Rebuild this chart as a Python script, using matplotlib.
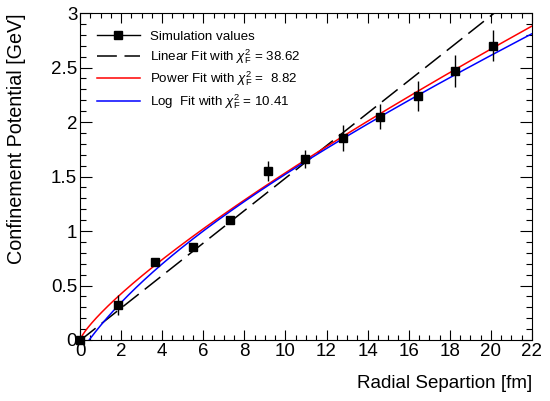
import numpy as np
import matplotlib
matplotlib.use("Agg")
import matplotlib.pyplot as plt
from matplotlib.lines import Line2D
from matplotlib.ticker import MultipleLocator

plt.rcParams['font.family'] = ['Liberation Sans', 'DejaVu Sans']
plt.rcParams['mathtext.fontset'] = 'custom'
plt.rcParams['mathtext.rm'] = 'Liberation Sans'
plt.rcParams['mathtext.it'] = 'Liberation Sans:italic'
plt.rcParams['mathtext.bf'] = 'Liberation Sans:bold'

# ---- data ----
r_fm = [0.0, 1.85, 3.65, 5.50, 7.30, 9.15, 10.95, 12.78, 14.60, 16.45, 18.25, 20.08]
v_gev = [0.0, 0.32, 0.72, 0.855, 1.10, 1.553, 1.66, 1.85, 2.05, 2.24, 2.47, 2.70]
v_err = [0.0, 0.09, 0.0, 0.0, 0.04, 0.09, 0.08, 0.12, 0.115, 0.14, 0.145, 0.14]

# fit parameters (estimated from the drawn curves)
lin_par = [0.149, -0.005]          # y = a*x + b
pow_par = [0.2437, 0.799]          # y = a*x^b
log_par = [0.6133, 3.0, 0.07397, -0.1177]  # y = A*ln(1+x/s) + B*x + C

labels = ["Simulation values",
          r"Linear Fit with $\chi^{2}_{\mathrm{F}}$ = 38.62",
          r"Power Fit with $\chi^{2}_{\mathrm{F}}$ =  8.82",
          r"Log  Fit with $\chi^{2}_{\mathrm{F}}$ = 10.41"]

W, H = 550, 401
fig = plt.figure(figsize=(W/100, H/100), dpi=100)
ax = fig.add_axes([80/W, 1-340/H, 452/W, 327/H])

x = np.linspace(0, 22, 500)
lin = lin_par[0]*x + lin_par[1]
pw = pow_par[0]*np.power(x, pow_par[1])
lg = log_par[0]*np.log(1 + x/log_par[1]) + log_par[2]*x + log_par[3]

l1, = ax.plot(x, lin, color='black', lw=1.1, dashes=(13, 5))
l2, = ax.plot(x, pw, color='#ff0000', lw=1.1)
l3, = ax.plot(x, lg, color='#0000ff', lw=1.1)

ax.errorbar(r_fm, v_gev, yerr=v_err, fmt='s', color='black', ms=6,
            elinewidth=1, capsize=0, clip_on=False, zorder=5)

ax.set_xlim(0, 22)
ax.set_ylim(0, 3)
ax.xaxis.set_major_locator(MultipleLocator(2))
ax.xaxis.set_minor_locator(MultipleLocator(0.5))
ax.yaxis.set_major_locator(MultipleLocator(0.5))
ax.yaxis.set_minor_locator(MultipleLocator(0.1))
ax.set_yticks([0, 0.5, 1, 1.5, 2, 2.5, 3])
ax.set_yticklabels(['0', '0.5', '1', '1.5', '2', '2.5', '3'])
ax.tick_params(which='both', direction='in', top=True, right=True, labelsize=13.5, width=0.8)
ax.tick_params(axis='x', which='major', length=7, pad=2)
ax.tick_params(axis='x', which='minor', length=3.6)
ax.tick_params(axis='y', which='major', length=8.5, pad=2)
ax.tick_params(axis='y', which='minor', length=4.3)
for s in ax.spines.values():
    s.set_linewidth(0.8)

ax.set_xlabel("Radial Separtion [fm]", fontsize=13.5, ha='right')
ax.xaxis.set_label_coords(1.0, -0.107)
ax.set_ylabel("Confinement Potential [GeV]", fontsize=14.2, ha='right')
ax.yaxis.set_label_coords(-0.12, 1.0)

h0 = Line2D([], [], color='black', lw=1, marker='s', ms=6)
leg = ax.legend([h0, l1, l2, l3], labels, loc='upper left',
                bbox_to_anchor=(0.026, 0.962), frameon=False, fontsize=9.6,
                handlelength=3.2, handletextpad=0.75, labelspacing=0.3,
                borderaxespad=0.0)

fig.savefig("out.png", dpi=100)
